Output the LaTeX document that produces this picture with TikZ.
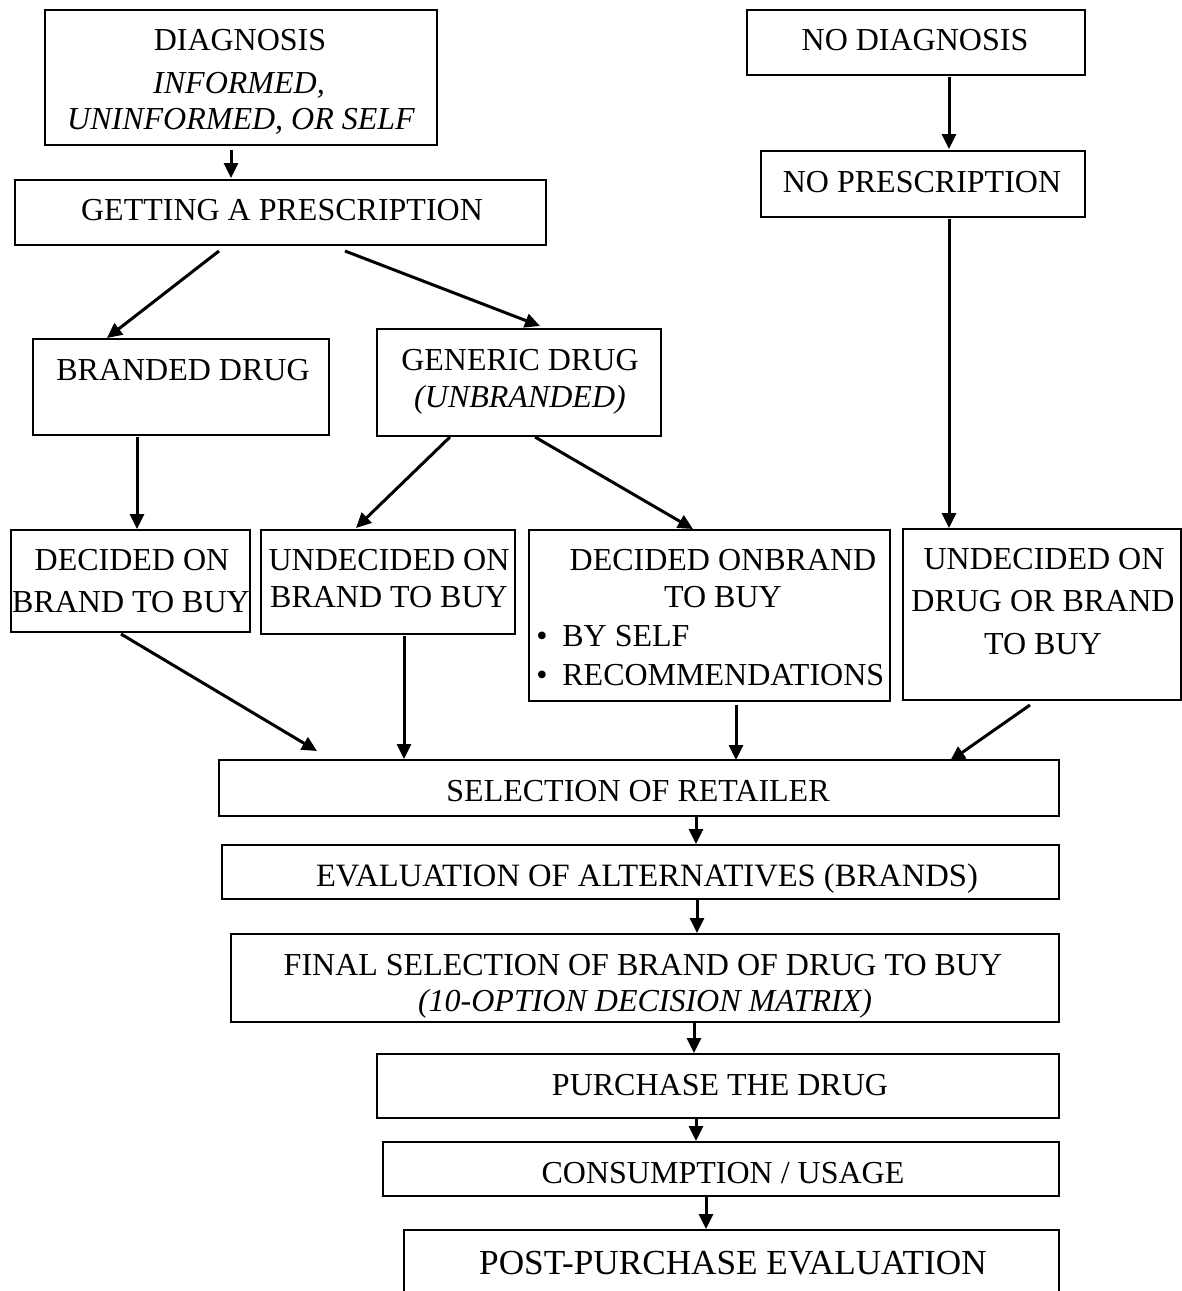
\documentclass[tikz,border=0pt]{standalone}
\usepackage{fontspec}
\setmainfont{Liberation Serif}
\usetikzlibrary{arrows.meta,calc,fit}
\tikzset{
  box/.style={draw, line width=1pt, inner sep=0pt, outer sep=0pt},
  lbl/.style={inner sep=0pt, anchor=base, font=\fontsize{16}{19}\selectfont},
  ilbl/.style={inner sep=0pt, anchor=base, font=\fontsize{16}{19}\selectfont\itshape},
  blbl/.style={inner sep=0pt, anchor=base west, font=\fontsize{16}{19}\selectfont},
  flow/.style={line width=1.5pt, -{Triangle[length=7.5pt,width=7pt]}},
}
\begin{document}
\begin{tikzpicture}[x=0.5pt,y=-0.5pt]
\clip (0,0) rectangle (1182,1291);
\fill[white] (0,0) rectangle (1182,1291);

% boxes
\node[box, fit={(45,10) (437,145)}] (diag) {};
\node[box, fit={(747,10) (1085,75)}] (nodiag) {};
\node[box, fit={(15,180) (546,245)}] (getrx) {};
\node[box, fit={(761,151) (1085,217)}] (norx) {};
\node[box, fit={(33,339) (329,435)}] (brand) {};
\node[box, fit={(377,329) (661,436)}] (generic) {};
\node[box, fit={(11,530) (250,632)}] (decA) {};
\node[box, fit={(261,530) (515,634)}] (undecA) {};
\node[box, fit={(529,530) (890,701)}] (decB) {};
\node[box, fit={(903,529) (1181,700)}] (undecB) {};
\node[box, fit={(219,760) (1059,816)}] (retail) {};
\node[box, fit={(222,845) (1059,899)}] (evalalt) {};
\node[box, fit={(231,934) (1059,1022)}] (final) {};
\node[box, fit={(377,1054) (1059,1118)}] (purchase) {};
\node[box, fit={(383,1142) (1059,1196)}] (consume) {};
\node[box, fit={(404,1230) (1059,1330)}] (post) {};

% texts
\node[lbl]  (t1a) at (240,50)  {DIAGNOSIS};
\node[ilbl] (t1b) at (239,93)  {INFORMED,};
\node[ilbl] (t1c) at (241,129) {UNINFORMED, OR SELF};
\node[lbl]  (t2)  at (915,50)  {NO DIAGNOSIS};
\node[lbl]  (t3)  at (282,220) {GETTING A PRESCRIPTION};
\node[lbl]  (t4)  at (922,192) {NO PRESCRIPTION};
\node[lbl]  (t5)  at (183,380) {BRANDED DRUG};
\node[lbl]  (t6a) at (520,370) {GENERIC DRUG};
\node[ilbl] (t6b) at (520,407) {(UNBRANDED)};
\node[lbl]  (t7a) at (132,570) {DECIDED ON};
\node[lbl]  (t7b) at (131,612) {BRAND TO BUY};
\node[lbl]  (t8a) at (389,570) {UNDECIDED ON};
\node[lbl]  (t8b) at (389,607) {BRAND TO BUY};
\node[lbl]  (t9a) at (723,570) {DECIDED ONBRAND};
\node[lbl]  (t9b) at (723,607) {TO BUY};
\node[blbl] (b9c) at (536,646) {\textbullet};
\node[blbl] (t9c) at (562,646) {BY SELF};
\node[blbl] (b9d) at (536,685) {\textbullet};
\node[blbl] (t9d) at (562,685) {RECOMMENDATIONS};
\node[lbl]  (t10a) at (1044,569) {UNDECIDED ON};
\node[lbl]  (t10b) at (1043,611) {DRUG OR BRAND};
\node[lbl]  (t10c) at (1043,654) {TO BUY};
\node[lbl]  (t11) at (638,801)  {SELECTION OF RETAILER};
\node[lbl, font=\fontsize{16.3}{19}\selectfont] (t12) at (647,886) {EVALUATION OF ALTERNATIVES (BRANDS)};
\node[lbl]  (t13a) at (643,975) {FINAL SELECTION OF BRAND OF DRUG TO BUY};
\node[ilbl] (t13b) at (645,1011) {(10-OPTION DECISION MATRIX)};
\node[lbl]  (t14) at (720,1095) {PURCHASE THE DRUG};
\node[lbl]  (t15) at (723,1183) {CONSUMPTION / USAGE};
\node[lbl, font=\fontsize{17.6}{20}\selectfont] (t16) at (733,1274) {POST-PURCHASE EVALUATION};

% connectors
\draw[flow] ($(diag.south west)+(186,5)$) -- ($(getrx.north west)+(216,-2)$);
\draw[flow] ($(nodiag.south west)+(202,2)$) -- ($(norx.north west)+(188,-2)$);
\draw[flow] ($(getrx.south west)+(204,6)$) -- ($(brand.north west)+(74,-1)$);
\draw[flow] ($(getrx.south west)+(330,6)$) -- ($(generic.north west)+(163,-3)$);
\draw[flow] ($(norx.south west)+(188,2)$) -- ($(undecB.north west)+(46,-1)$);
\draw[flow] ($(brand.south west)+(104,2)$) -- ($(decA.north west)+(126,-1)$);
\draw[flow] ($(generic.south west)+(73,1)$) -- ($(undecA.north west)+(95,-2)$);
\draw[flow] ($(generic.south west)+(158,1)$) -- ($(decB.north west)+(164,-1)$);
\draw[flow] ($(decA.south west)+(110,2)$) -- ($(retail.north west)+(98,-9)$);
\draw[flow] ($(undecA.south west)+(143,2)$) -- ($(retail.north west)+(185,-1)$);
\draw[flow] ($(decB.south west)+(207,4)$) -- ($(retail.north west)+(517,0)$);
\draw[flow] ($(undecB.south west)+(127,5)$) -- ($(retail.north west)+(731,1)$);
\draw[flow] ($(retail.south west)+(477,0)$) -- ($(evalalt.north west)+(474,-1)$);
\draw[flow] ($(evalalt.south west)+(475,0)$) -- ($(final.north west)+(466,-1)$);
\draw[flow] ($(final.south west)+(463,0)$) -- ($(purchase.north west)+(317,-1)$);
\draw[flow] ($(purchase.south west)+(319,0)$) -- ($(consume.north west)+(313,-1)$);
\draw[flow] ($(consume.south west)+(323,0)$) -- ($(post.north west)+(302,-1)$);
\end{tikzpicture}
\end{document}
